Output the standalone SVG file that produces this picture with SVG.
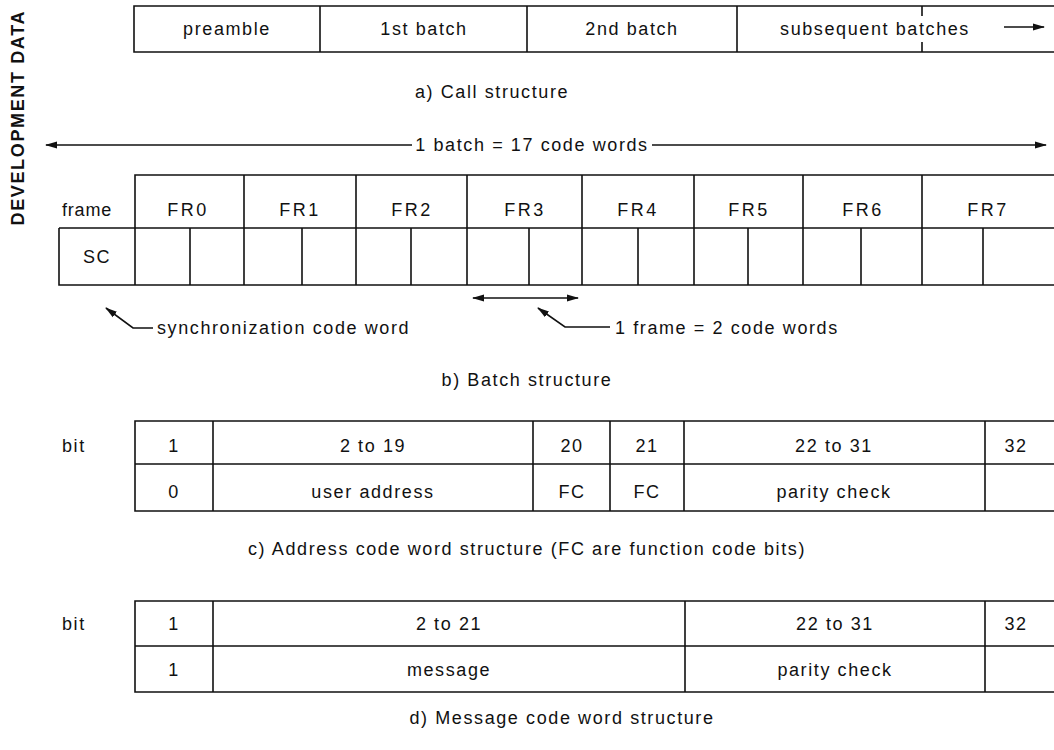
<svg xmlns="http://www.w3.org/2000/svg" width="1054" height="750" viewBox="0 0 1054 750">
<style>
text{font-family:"Liberation Sans",Arial,sans-serif;font-size:18px;fill:#111;letter-spacing:1.6px}
.c{text-anchor:middle}
.fr{letter-spacing:2.5px}
.ln{stroke:#111;stroke-width:1.6;fill:none}
.side{font-weight:bold;font-size:18px;letter-spacing:1px}
</style>
<defs>
<marker id="ah" viewBox="0 0 12 8" refX="11" refY="4" markerWidth="12" markerHeight="8" markerUnits="userSpaceOnUse" orient="auto-start-reverse">
<path d="M0,0.5 L12,4 L0,7.5 Z" fill="#111"/>
</marker>
</defs>
<rect width="1054" height="750" fill="#fff"/>
<text class="side c" transform="translate(24,118) rotate(-90)" textLength="215" lengthAdjust="spacing">DEVELOPMENT DATA</text>

<g id="call-structure">
<path class="ln" d="M1054,6 H134 V52 H1054 M320,6 V52 M527,6 V52 M737,6 V52 M922,6 V16 M922,42 V52"/>
<text class="c" x="227" y="35">preamble</text>
<text class="c" x="424" y="35">1st batch</text>
<text class="c" x="632" y="35">2nd batch</text>
<text class="c" x="875" y="35">subsequent batches</text>
</g>
<text class="c" x="492" y="98">a)  Call structure</text>

<g id="batch-structure">
<path class="ln" d="M1054,175 H135 V285 M59,228 H1054 M59,228 V285 H1054 M244,175 V285 M356,175 V285 M467,175 V285 M582,175 V285 M694,175 V285 M803,175 V285 M922,175 V285 M190,228 V285 M302,228 V285 M411,228 V285 M529,228 V285 M638,228 V285 M748,228 V285 M861,228 V285 M983,228 V285"/>
<text x="62" y="216" style="letter-spacing:0.8px">frame</text>
<text class="c" x="97" y="263">SC</text>
<text class="c fr" x="188" y="216">FR0</text>
<text class="c fr" x="300" y="216">FR1</text>
<text class="c fr" x="412" y="216">FR2</text>
<text class="c fr" x="525" y="216">FR3</text>
<text class="c fr" x="638" y="216">FR4</text>
<text class="c fr" x="749" y="216">FR5</text>
<text class="c fr" x="863" y="216">FR6</text>
<text class="c fr" x="988" y="216">FR7</text>
</g>

<g id="connectors">
<line class="ln" x1="412" y1="145" x2="46" y2="145" marker-end="url(#ah)"/>
<line class="ln" x1="652" y1="145" x2="1046" y2="145" marker-end="url(#ah)"/>
<line class="ln" x1="1004" y1="27" x2="1044" y2="27" marker-end="url(#ah)"/>
<line class="ln" x1="473" y1="298" x2="578" y2="298" marker-start="url(#ah)" marker-end="url(#ah)"/>
<polyline class="ln" points="153,328 133,328 106,308" marker-end="url(#ah)"/>
<polyline class="ln" points="610,327 565,327 538,308" marker-end="url(#ah)"/>
</g>
<text class="c" x="532" y="151">1 batch = 17 code words</text>
<text x="157" y="334">synchronization code word</text>
<text x="615" y="334">1 frame = 2 code words</text>
<text class="c" x="527" y="386">b)  Batch structure</text>

<g id="address-word">
<path class="ln" d="M1054,421 H135 V511 H1054 M135,464 H1054 M213,421 V511 M533,421 V511 M610,421 V511 M684,421 V511 M985,421 V511"/>
<text x="62" y="452">bit</text>
<text class="c" x="174" y="452">1</text>
<text class="c" x="373" y="452">2 to 19</text>
<text class="c" x="572" y="452">20</text>
<text class="c" x="647" y="452">21</text>
<text class="c" x="834" y="452">22 to 31</text>
<text class="c" x="1016" y="452">32</text>
<text class="c" x="174" y="498">0</text>
<text class="c" x="373" y="498">user address</text>
<text class="c" x="572" y="498">FC</text>
<text class="c" x="647" y="498">FC</text>
<text class="c" x="834" y="498">parity check</text>
</g>
<text class="c" x="527" y="555">c)  Address code word structure (FC are function code bits)</text>

<g id="message-word">
<path class="ln" d="M1054,601 H135 V692 H1054 M135,646 H1054 M213,601 V692 M685,601 V692 M985,601 V692"/>
<text x="62" y="630">bit</text>
<text class="c" x="174" y="630">1</text>
<text class="c" x="449" y="630">2 to 21</text>
<text class="c" x="835" y="630">22 to 31</text>
<text class="c" x="1016" y="630">32</text>
<text class="c" x="174" y="676">1</text>
<text class="c" x="449" y="676">message</text>
<text class="c" x="835" y="676">parity check</text>
</g>
<text class="c" x="562" y="724">d)  Message code word structure</text>
</svg>
